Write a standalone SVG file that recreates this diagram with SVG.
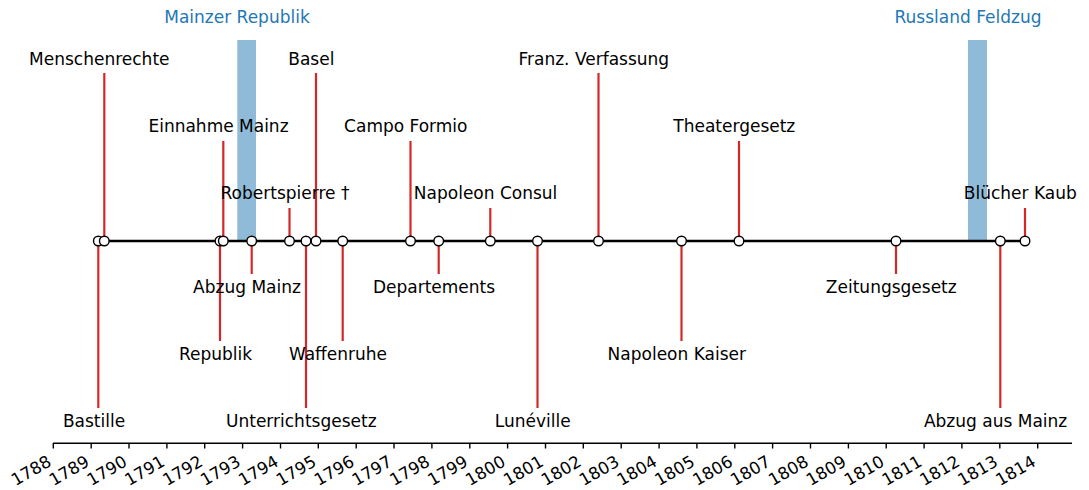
<svg xmlns="http://www.w3.org/2000/svg" width="1089" height="490" viewBox="0 0 1089 490">
<style>
text{font-family:"DejaVu Sans","Liberation Sans",sans-serif;font-size:17px;fill:#000}
.lbl{text-anchor:middle}
.span-lbl{text-anchor:middle;fill:#1f77b4}
.tick-lbl{text-anchor:end;font-size:16.8px}
.stem{stroke:#d62728;stroke-width:2.2}
.dot{fill:#fff;stroke:#000;stroke-width:1.4}
.span{fill:#1f77b4;fill-opacity:0.5}
.tick{stroke:#000;stroke-width:1.4}
</style>
<rect width="1089" height="490" fill="#fff"/>
<g id="spans">
<g id="span-mainz"><rect class="span" x="237.3" y="40" width="18.7" height="201"/><text class="span-lbl" x="237" y="23">Mainzer Republik</text></g>
<g id="span-russland"><rect class="span" x="968" y="40" width="19" height="201"/><text class="span-lbl" x="968" y="23">Russland Feldzug</text></g>
</g>
<g id="connectors">
<line class="stem" x1="98.3" y1="241" x2="98.3" y2="408"/>
<line class="stem" x1="104.3" y1="241" x2="104.3" y2="73"/>
<line class="stem" x1="220" y1="241" x2="220" y2="341"/>
<line class="stem" x1="223.3" y1="241" x2="223.3" y2="141"/>
<line class="stem" x1="251.7" y1="241" x2="251.7" y2="274"/>
<line class="stem" x1="289.5" y1="241" x2="289.5" y2="208"/>
<line class="stem" x1="306" y1="241" x2="306" y2="408"/>
<line class="stem" x1="316" y1="241" x2="316" y2="73"/>
<line class="stem" x1="342.7" y1="241" x2="342.7" y2="341"/>
<line class="stem" x1="410.5" y1="241" x2="410.5" y2="141"/>
<line class="stem" x1="438.7" y1="241" x2="438.7" y2="274"/>
<line class="stem" x1="490.3" y1="241" x2="490.3" y2="208"/>
<line class="stem" x1="537.5" y1="241" x2="537.5" y2="408"/>
<line class="stem" x1="598.5" y1="241" x2="598.5" y2="73"/>
<line class="stem" x1="681.5" y1="241" x2="681.5" y2="341"/>
<line class="stem" x1="739" y1="241" x2="739" y2="141"/>
<line class="stem" x1="896" y1="241" x2="896" y2="274"/>
<line class="stem" x1="1000.3" y1="241" x2="1000.3" y2="408"/>
<line class="stem" x1="1025" y1="241" x2="1025" y2="208"/>
<line x1="98.3" y1="241" x2="1025" y2="241" stroke="#000" stroke-width="2.4"/>
</g>
<g id="ev-bastille"><circle class="dot" cx="98.3" cy="241" r="4.8"/><text class="lbl" x="94" y="427">Bastille</text></g>
<g id="ev-menschenrechte"><circle class="dot" cx="104.3" cy="241" r="4.8"/><text class="lbl" x="99.3" y="65">Menschenrechte</text></g>
<g id="ev-republik"><circle class="dot" cx="220" cy="241" r="4.8"/><text class="lbl" x="215.5" y="360">Republik</text></g>
<g id="ev-einnahme"><circle class="dot" cx="223.3" cy="241" r="4.8"/><text class="lbl" x="218.5" y="132">Einnahme Mainz</text></g>
<g id="ev-abzug"><circle class="dot" cx="251.7" cy="241" r="4.8"/><text class="lbl" x="247" y="293">Abzug Mainz</text></g>
<g id="ev-robertspierre"><circle class="dot" cx="289.5" cy="241" r="4.8"/><text class="lbl" x="285" y="199">Robertspierre †</text></g>
<g id="ev-unterricht"><circle class="dot" cx="306" cy="241" r="4.8"/><text class="lbl" x="301.3" y="427">Unterrichtsgesetz</text></g>
<g id="ev-basel"><circle class="dot" cx="316" cy="241" r="4.8"/><text class="lbl" x="311.3" y="65">Basel</text></g>
<g id="ev-waffenruhe"><circle class="dot" cx="342.7" cy="241" r="4.8"/><text class="lbl" x="338" y="360">Waffenruhe</text></g>
<g id="ev-campo"><circle class="dot" cx="410.5" cy="241" r="4.8"/><text class="lbl" x="405.8" y="132">Campo Formio</text></g>
<g id="ev-departements"><circle class="dot" cx="438.7" cy="241" r="4.8"/><text class="lbl" x="434" y="293">Departements</text></g>
<g id="ev-consul"><circle class="dot" cx="490.3" cy="241" r="4.8"/><text class="lbl" x="485.6" y="199">Napoleon Consul</text></g>
<g id="ev-luneville"><circle class="dot" cx="537.5" cy="241" r="4.8"/><text class="lbl" x="532.8" y="427">Lunéville</text></g>
<g id="ev-verfassung"><circle class="dot" cx="598.5" cy="241" r="4.8"/><text class="lbl" x="593.8" y="65">Franz. Verfassung</text></g>
<g id="ev-kaiser"><circle class="dot" cx="681.5" cy="241" r="4.8"/><text class="lbl" x="676.8" y="360">Napoleon Kaiser</text></g>
<g id="ev-theater"><circle class="dot" cx="739" cy="241" r="4.8"/><text class="lbl" x="734.3" y="132">Theatergesetz</text></g>
<g id="ev-zeitung"><circle class="dot" cx="896" cy="241" r="4.8"/><text class="lbl" x="891.3" y="293">Zeitungsgesetz</text></g>
<g id="ev-abzugaus"><circle class="dot" cx="1000.3" cy="241" r="4.8"/><text class="lbl" x="995.6" y="427">Abzug aus Mainz</text></g>
<g id="ev-bluecher"><circle class="dot" cx="1025" cy="241" r="4.8"/><text class="lbl" x="1020.3" y="199">Blücher Kaub</text></g>
<g id="axis">
<line x1="53" y1="443.3" x2="1072" y2="443.3" stroke="#000" stroke-width="1.4"/>
<g id="ticks">
<line class="tick" x1="53.3" y1="443" x2="53.3" y2="448.5"/>
<line class="tick" x1="91.2" y1="443" x2="91.2" y2="448.5"/>
<line class="tick" x1="129.0" y1="443" x2="129.0" y2="448.5"/>
<line class="tick" x1="166.9" y1="443" x2="166.9" y2="448.5"/>
<line class="tick" x1="204.7" y1="443" x2="204.7" y2="448.5"/>
<line class="tick" x1="242.6" y1="443" x2="242.6" y2="448.5"/>
<line class="tick" x1="280.5" y1="443" x2="280.5" y2="448.5"/>
<line class="tick" x1="318.3" y1="443" x2="318.3" y2="448.5"/>
<line class="tick" x1="356.2" y1="443" x2="356.2" y2="448.5"/>
<line class="tick" x1="394.0" y1="443" x2="394.0" y2="448.5"/>
<line class="tick" x1="431.9" y1="443" x2="431.9" y2="448.5"/>
<line class="tick" x1="469.8" y1="443" x2="469.8" y2="448.5"/>
<line class="tick" x1="507.6" y1="443" x2="507.6" y2="448.5"/>
<line class="tick" x1="545.5" y1="443" x2="545.5" y2="448.5"/>
<line class="tick" x1="583.3" y1="443" x2="583.3" y2="448.5"/>
<line class="tick" x1="621.2" y1="443" x2="621.2" y2="448.5"/>
<line class="tick" x1="659.1" y1="443" x2="659.1" y2="448.5"/>
<line class="tick" x1="696.9" y1="443" x2="696.9" y2="448.5"/>
<line class="tick" x1="734.8" y1="443" x2="734.8" y2="448.5"/>
<line class="tick" x1="772.6" y1="443" x2="772.6" y2="448.5"/>
<line class="tick" x1="810.5" y1="443" x2="810.5" y2="448.5"/>
<line class="tick" x1="848.4" y1="443" x2="848.4" y2="448.5"/>
<line class="tick" x1="886.2" y1="443" x2="886.2" y2="448.5"/>
<line class="tick" x1="924.1" y1="443" x2="924.1" y2="448.5"/>
<line class="tick" x1="961.9" y1="443" x2="961.9" y2="448.5"/>
<line class="tick" x1="999.8" y1="443" x2="999.8" y2="448.5"/>
<line class="tick" x1="1037.7" y1="443" x2="1037.7" y2="448.5"/>
</g>
<g id="tick-labels">
<text class="tick-lbl" transform="translate(52.5,465) rotate(-30)">1788</text>
<text class="tick-lbl" transform="translate(90.4,465) rotate(-30)">1789</text>
<text class="tick-lbl" transform="translate(128.2,465) rotate(-30)">1790</text>
<text class="tick-lbl" transform="translate(166.1,465) rotate(-30)">1791</text>
<text class="tick-lbl" transform="translate(203.9,465) rotate(-30)">1792</text>
<text class="tick-lbl" transform="translate(241.8,465) rotate(-30)">1793</text>
<text class="tick-lbl" transform="translate(279.7,465) rotate(-30)">1794</text>
<text class="tick-lbl" transform="translate(317.5,465) rotate(-30)">1795</text>
<text class="tick-lbl" transform="translate(355.4,465) rotate(-30)">1796</text>
<text class="tick-lbl" transform="translate(393.2,465) rotate(-30)">1797</text>
<text class="tick-lbl" transform="translate(431.1,465) rotate(-30)">1798</text>
<text class="tick-lbl" transform="translate(469.0,465) rotate(-30)">1799</text>
<text class="tick-lbl" transform="translate(506.8,465) rotate(-30)">1800</text>
<text class="tick-lbl" transform="translate(544.7,465) rotate(-30)">1801</text>
<text class="tick-lbl" transform="translate(582.5,465) rotate(-30)">1802</text>
<text class="tick-lbl" transform="translate(620.4,465) rotate(-30)">1803</text>
<text class="tick-lbl" transform="translate(658.3,465) rotate(-30)">1804</text>
<text class="tick-lbl" transform="translate(696.1,465) rotate(-30)">1805</text>
<text class="tick-lbl" transform="translate(734.0,465) rotate(-30)">1806</text>
<text class="tick-lbl" transform="translate(771.8,465) rotate(-30)">1807</text>
<text class="tick-lbl" transform="translate(809.7,465) rotate(-30)">1808</text>
<text class="tick-lbl" transform="translate(847.6,465) rotate(-30)">1809</text>
<text class="tick-lbl" transform="translate(885.4,465) rotate(-30)">1810</text>
<text class="tick-lbl" transform="translate(923.3,465) rotate(-30)">1811</text>
<text class="tick-lbl" transform="translate(961.1,465) rotate(-30)">1812</text>
<text class="tick-lbl" transform="translate(999.0,465) rotate(-30)">1813</text>
<text class="tick-lbl" transform="translate(1036.9,465) rotate(-30)">1814</text>
</g>
</g>
</svg>
